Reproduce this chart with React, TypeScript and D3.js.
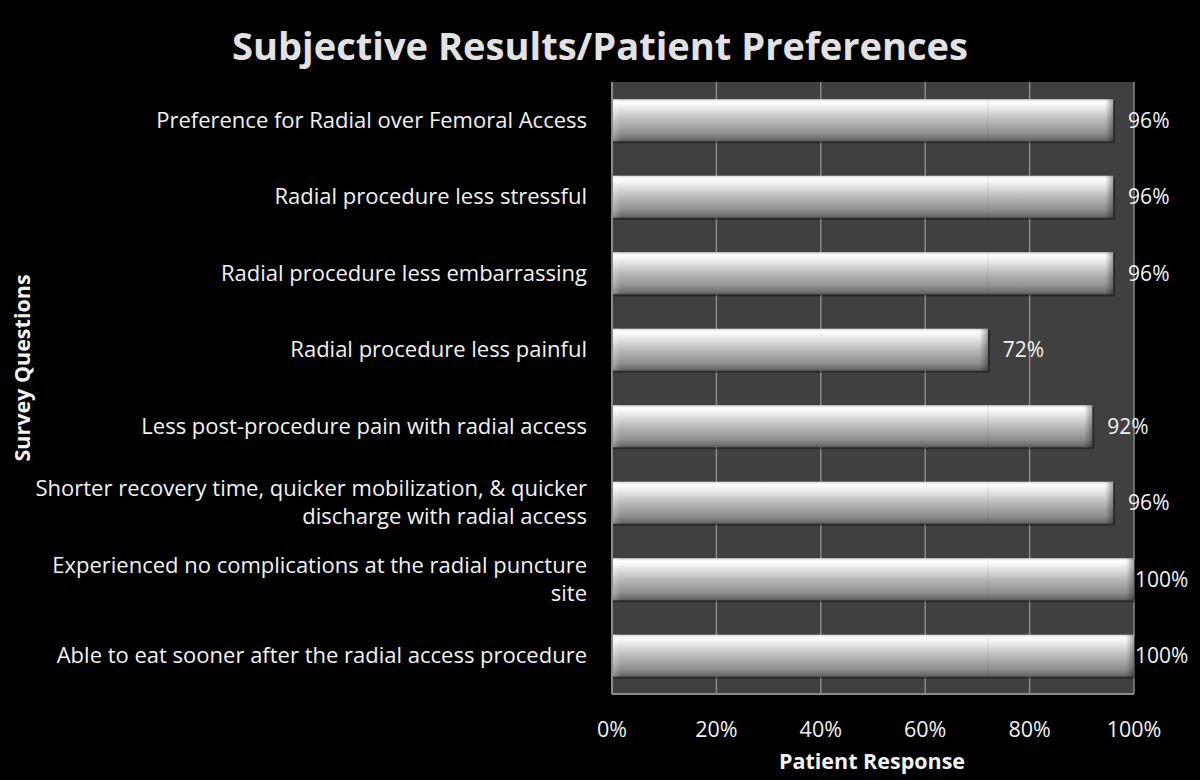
import React from "react";
import * as d3 from "d3";

const categories = [
  ["Preference for Radial over Femoral Access"],
  ["Radial procedure less stressful"],
  ["Radial procedure less embarrassing"],
  ["Radial procedure less painful"],
  ["Less post-procedure pain with radial access"],
  ["Shorter recovery time, quicker mobilization, & quicker", "discharge with radial access"],
  ["Experienced no complications at the radial puncture", "site"],
  ["Able to eat sooner after the radial access procedure"],
];
const values = [96, 96, 96, 72, 92, 96, 100, 100];
const ticks = [0, 20, 40, 60, 80, 100];

const W = 1200, H = 780;
const L = 612, R = 1134, T = 82, B = 694;
const FONT = "'Open Sans', sans-serif";

export default function App() {
  const x = d3.scaleLinear().domain([0, 100]).range([L, R]);
  const y = d3.scaleBand<number>().domain(d3.range(values.length)).range([T, B]).paddingInner(0.45).paddingOuter(0.225);
  const bw = y.bandwidth();
  return (
    <svg width={W} height={H} style={{ position: "absolute", left: 0, top: 0, background: "#000" }}>
      <defs>
        <linearGradient id="barg" x1="0" y1="0" x2="0" y2="1">
          <stop offset="0" stopColor="#d8d8d8" />
          <stop offset="0.07" stopColor="#ffffff" />
          <stop offset="0.2" stopColor="#ececec" />
          <stop offset="0.5" stopColor="#bababa" />
          <stop offset="0.82" stopColor="#8e8e8e" />
          <stop offset="0.95" stopColor="#6e6e6e" />
          <stop offset="1" stopColor="#5a5a5a" />
        </linearGradient>
        <linearGradient id="capR" x1="0" y1="0" x2="1" y2="0">
          <stop offset="0" stopColor="#000" stopOpacity="0" />
          <stop offset="1" stopColor="#000" stopOpacity="0.35" />
        </linearGradient>
        <linearGradient id="capL" x1="0" y1="0" x2="1" y2="0">
          <stop offset="0" stopColor="#fff" stopOpacity="0.25" />
          <stop offset="1" stopColor="#fff" stopOpacity="0" />
        </linearGradient>
      </defs>
      <rect x={0} y={0} width={W} height={H} fill="#000" />
      <text x={600} y={60} textAnchor="middle" fill="#e2e2e2" fontFamily={FONT} fontWeight="bold" fontSize={37} textLength={736} lengthAdjust="spacingAndGlyphs">
        Subjective Results/Patient Preferences
      </text>
      <rect x={L} y={T} width={R - L} height={B - T} fill="#404040" />
      {ticks.slice(1).map((t) => (
        <line key={t} x1={x(t)} x2={x(t)} y1={T} y2={B} stroke="#8a8a8a" strokeWidth={1.5} />
      ))}
      <line x1={L} x2={L} y1={T} y2={B} stroke="#8a8a8a" strokeWidth={2} />
      <line x1={L} x2={R} y1={B} y2={B} stroke="#8a8a8a" strokeWidth={2} />
      {values.map((v, i) => {
        const y0 = y(i)!;
        const xe = x(v);
        return (
          <g key={i}>
            <rect x={L + 1} y={y0 + 2} width={xe - L + 1} height={bw} fill="#000" fillOpacity={0.35} />
            <rect x={L + 1} y={y0} width={xe - L - 1} height={bw} fill="url(#barg)" />
            <rect x={L + 1} y={y0} width={8} height={bw} fill="url(#capL)" />
            <rect x={xe - 8} y={y0} width={8} height={bw} fill="url(#capR)" />
            <line x1={x(72)} x2={x(72)} y1={y0} y2={y0 + bw} stroke="#000" strokeOpacity={v > 72 ? 0.08 : 0} />
            <text x={Math.min(xe + 15, R + 1)} y={y0 + bw / 2} dy="0.35em" fill="#f2f2f2" fontFamily={FONT} fontSize={21}>
              {v}%
            </text>
          </g>
        );
      })}
      {categories.map((lines, i) => {
        const cy = y(i)! + bw / 2;
        const lh = 28;
        return (
          <text key={i} textAnchor="end" fill="#f2f2f2" fontFamily={FONT} fontSize={22}>
            {lines.map((ln, j) => (
              <tspan key={j} x={587} y={cy + (j - (lines.length - 1) / 2) * lh} dy="0.35em">
                {ln}
              </tspan>
            ))}
          </text>
        );
      })}
      {ticks.map((t) => (
        <text key={t} x={x(t)} y={729} dy="0.35em" textAnchor="middle" fill="#f2f2f2" fontFamily={FONT} fontSize={21.5}>
          {t}%
        </text>
      ))}
      <text x={872} y={761} dy="0.35em" textAnchor="middle" fill="#f2f2f2" fontFamily={FONT} fontWeight="bold" fontSize={21.5}>
        Patient Response
      </text>
      <text transform="translate(22,368) rotate(-90)" dy="0.35em" textAnchor="middle" fill="#f2f2f2" fontFamily={FONT} fontWeight="bold" fontSize={21.5}>
        Survey Questions
      </text>
    </svg>
  );
}
